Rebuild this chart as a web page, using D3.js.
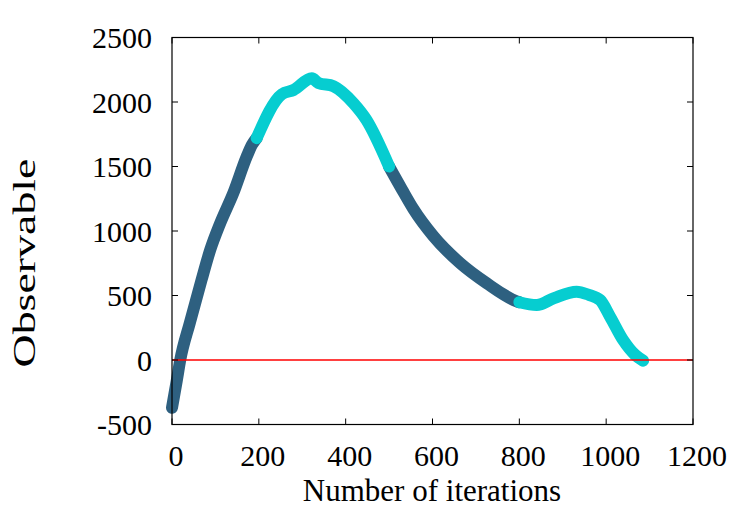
<!DOCTYPE html>
<html>
<head>
<meta charset="utf-8">
<script src="https://cdn.jsdelivr.net/npm/d3@7"></script>
<style>
body{margin:0;background:#fff;}
text{font-family:"Liberation Serif","Times New Roman",serif;fill:#000;}
</style>
</head>
<body>
<svg id="chart" width="750" height="525"></svg>
<script>
//data
var xTicks=[0,200,400,600,800,1000,1200];
var yTicks=[-500,0,500,1000,1500,2000,2500];

var iterations=[0,11,19,41,68,88,111,141,172,184,195,253,280,322,337,372,418,448,500,530,556,602,664,725,794,800,840,880,932,960,986,1009,1039,1067,1085];
var observable=[-370,-160,0,287,620,853,1060,1292,1576,1667,1720,2060,2093,2184,2148,2122,1990,1860,1500,1320,1170,960,750,595,455,448,426,480,530,505,465,336,155,39,-5];
//iteration where the colour switches
var phaseBreaks=[195,500,800];
var phaseColors=["#2e6080","#06cdd0"];

var svg=d3.select("#chart");
var margin={left:172,top:37.5,right:57,bottom:100.5};
var w=750-margin.left-margin.right;
var h=525-margin.top-margin.bottom;
var fs="30px";

var x=d3.scaleLinear().domain([0,1200]).range([0,w]);
var y=d3.scaleLinear().domain([-500,2500]).range([h,0]);

var g=svg.append("g").attr("transform","translate("+margin.left+","+margin.top+")");

//split into phases, sharing the boundary point
var pts=iterations.map(function(d,i){return {x:d,y:observable[i]};});
var bounds=[0].concat(phaseBreaks).concat([Infinity]);
var segs=[];
for(var s=0;s<bounds.length-1;s++){
	segs.push({
		idx:s,
		pts:pts.filter(function(p){return p.x>=bounds[s]&&p.x<=bounds[s+1];})
	});
}

var line=d3.line().x(function(d){return x(d.x);}).y(function(d){return y(d.y);}).curve(d3.curveMonotoneX);

//dark ones first, cyan on top
segs.filter(function(d){return d.idx%2===0;}).concat(segs.filter(function(d){return d.idx%2===1;}))
	.forEach(function(sg){
		g.append("path")
			.attr("d",line(sg.pts))
			.attr("fill","none")
			.attr("stroke",phaseColors[sg.idx%2])
			.attr("stroke-width",12)
			.attr("stroke-linecap","round")
			.attr("stroke-linejoin","round");
	});

//zero line
g.append("line")
	.attr("x1",0).attr("x2",w)
	.attr("y1",y(0)).attr("y2",y(0))
	.attr("stroke","#ff0000").attr("stroke-width",1.5);

//frame
g.append("rect").attr("width",w).attr("height",h)
	.attr("fill","none").attr("stroke","#000").attr("stroke-width",1.2);

//ticks, inward on all sides
var tl=6;
xTicks.forEach(function(t){
	g.append("line").attr("x1",x(t)).attr("x2",x(t)).attr("y1",h).attr("y2",h-tl).attr("stroke","#000");
	g.append("line").attr("x1",x(t)).attr("x2",x(t)).attr("y1",0).attr("y2",tl).attr("stroke","#000");
	g.append("text").attr("x",x(t)+4).attr("y",h+41.5).attr("text-anchor","middle")
		.style("font-size",fs).text(t);
});
yTicks.forEach(function(t){
	g.append("line").attr("x1",0).attr("x2",tl).attr("y1",y(t)).attr("y2",y(t)).attr("stroke","#000");
	g.append("line").attr("x1",w).attr("x2",w-tl).attr("y1",y(t)).attr("y2",y(t)).attr("stroke","#000");
	g.append("text").attr("x",-20).attr("y",y(t)+10.5).attr("text-anchor","end")
		.style("font-size",fs).text(t);
});

//axis titles
svg.append("text").attr("x",432).attr("y",501).attr("text-anchor","middle")
	.style("font-size","31px").text("Number of iterations");
//y title is drawn stretched along its length in the original
svg.append("text").attr("transform","translate(35,263) rotate(-90) scale(1.48,1)").attr("text-anchor","middle")
	.style("font-size","31px").text("Observable");
</script>
</body>
</html>
